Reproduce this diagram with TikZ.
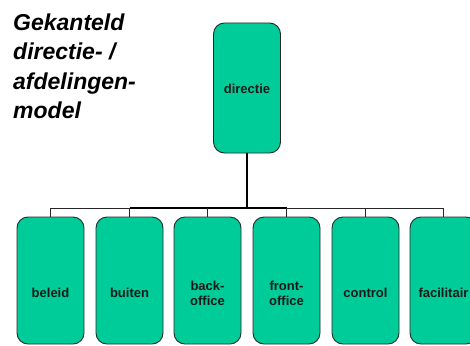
\documentclass[tikz,border=0pt]{standalone}
\usepackage{fontspec}
\setmainfont{Liberation Sans}
\definecolor{boxgreen}{RGB}{0,204,153}
\definecolor{edgegray}{RGB}{40,40,40}
\begin{document}
\begin{tikzpicture}[x=1pt,y=-1pt,
  orgbox/.style={draw=edgegray,line width=0.9pt,fill=boxgreen,rounded corners=11pt,
    minimum width=67pt,inner sep=0pt},
  lbl/.style={font=\fontsize{13}{15}\selectfont\bfseries,align=center,inner sep=0pt,text=black!90},
  wire/.style={draw=black!85,line width=0.9pt},
  bus/.style={draw=black,line width=1.6pt}]
\useasboundingbox (0,0) rectangle (470,345);
\clip (0,0) rectangle (470,345);
% title
\node[anchor=north west,align=left,inner sep=0pt,
  font=\fontsize{23}{29.5}\selectfont\bfseries\itshape] (title) at (13,13.5)
  {Gekanteld\\directie- /\\afdelingen-\\model};
% top box
\node[orgbox,minimum height=130pt] (dir) at (247,88) {};
\node[lbl] (tdir) at (247,89) {directie};
% bottom boxes
\foreach \i/\x in {1/50.5,2/129.5,3/207.5,4/286.5,5/365.5,6/443.5}{
  \node[orgbox,minimum height=127pt] (b\i) at (\x,280.5) {};
  \coordinate (k\i) at (\x,208);
}
\node[lbl] (t1) at (b1.center |- 0,293) {beleid};
\node[lbl] (t2) at (b2.center |- 0,293) {buiten};
\node[lbl] (t3) at (b3.center |- 0,293) {back-\\office};
\node[lbl] (t4) at (b4.center |- 0,293) {front-\\office};
\node[lbl] (t5) at (b5.center |- 0,293) {control};
\node[lbl] (t6) at (b6.center |- 0,293) {facilitair};
% connectors
\coordinate (j) at (dir.south |- k1);
\draw[bus] (dir.south) -- (j);
\draw[wire] (k1) -- (k2);
\draw[bus] (k2) -- (k4);
\draw[wire] (k4) -- (k6);
\foreach \i in {1,...,6}{
  \draw[wire] (k\i) -- (b\i.north);
}
\end{tikzpicture}
\end{document}
